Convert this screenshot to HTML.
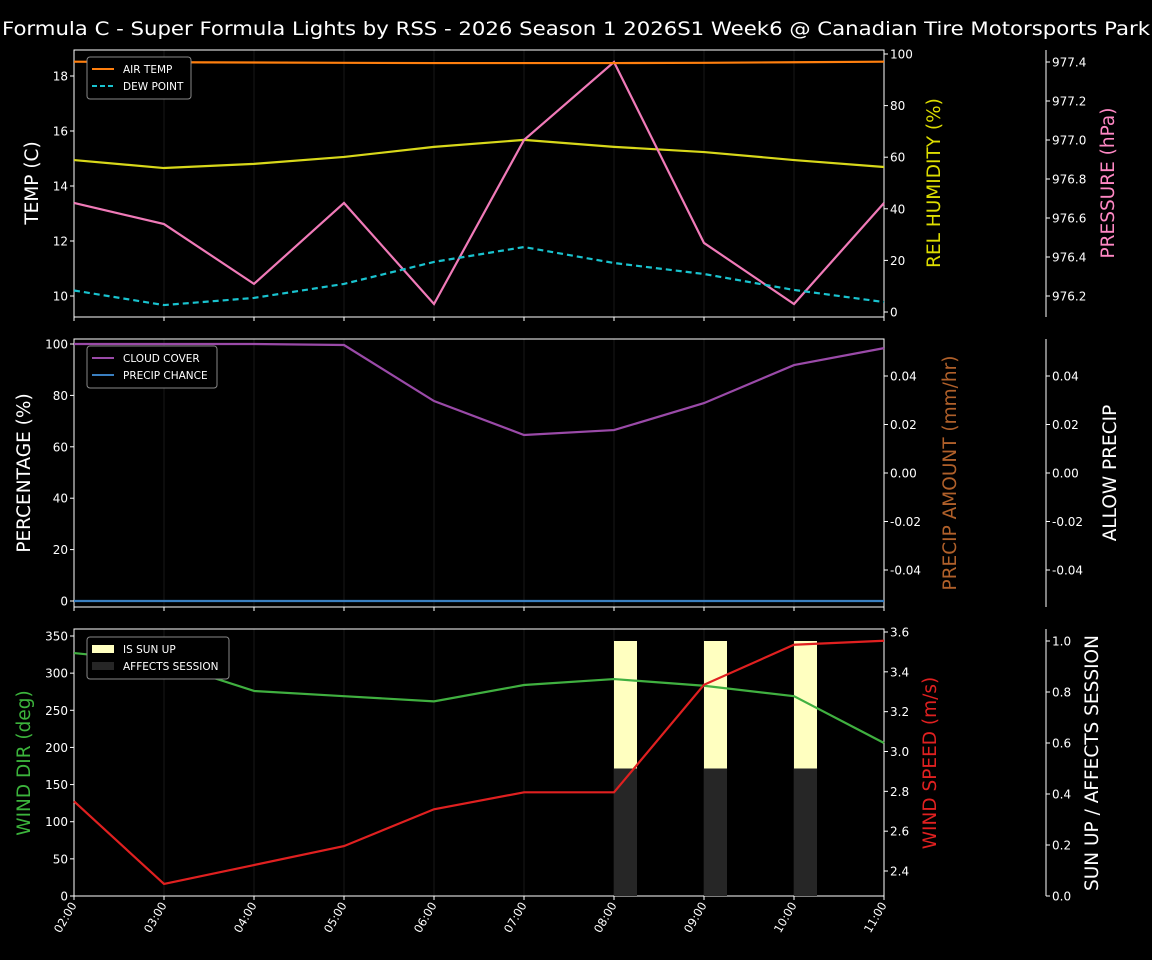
<!DOCTYPE html>
<html><head><meta charset="utf-8">
<style>
html,body{margin:0;padding:0;background:#000;}
svg{display:block;font-family:"DejaVu Sans","Liberation Sans",sans-serif;}
</style></head>
<body>
<svg id="chart" width="1152" height="960" viewBox="0 0 1152 960" xmlns="http://www.w3.org/2000/svg">
<rect width="1152" height="960" fill="#000"/>
<text x="576" y="35" fill="#fff" font-size="19" text-anchor="middle" textLength="1148" lengthAdjust="spacingAndGlyphs">Formula C - Super Formula Lights by RSS - 2026 Season 1 2026S1 Week6 @ Canadian Tire Motorsports Park</text>
</svg>
<script>
const hours=["02:00","03:00","04:00","05:00","06:00","07:00","08:00","09:00","10:00","11:00"];
const airTemp=[18.52,18.5,18.49,18.48,18.47,18.47,18.47,18.48,18.5,18.52];
const dewPoint=[10.2,9.67,9.93,10.44,11.24,11.78,11.2,10.8,10.22,9.78];
const humidity=[58.9,55.8,57.4,60.1,64,66.7,64,62,58.9,56.2];
const pressure=[976.677,976.569,976.262,976.677,976.159,977.0,977.4,976.472,976.159,976.677];
const cloudCover=[100,100,100,99.6,77.8,64.6,66.5,77,91.8,98.4];
const precipChance=[0,0,0,0,0,0,0,0,0,0];
const windDir=[327,315,276,269,262,284,292,283,269,206];
const windSpeed=[2.75,2.335,2.43,2.525,2.71,2.795,2.795,3.335,3.536,3.556];
const sunUp=[0,0,0,0,0,0,1,1,1,0];
const affects=[0,0,0,0,0,0,0.5,0.5,0.5,0];
const tempTicks=[10,12,14,16,18];
const humTicks=[0,20,40,60,80,100];
const presTicks=[976.2,976.4,976.6,976.8,977.0,977.2,977.4];
const pctTicks=[0,20,40,60,80,100];
const precTicks=[-0.04,-0.02,0.00,0.02,0.04];
const dirTicks=[0,50,100,150,200,250,300,350];
const spdTicks=[2.4,2.6,2.8,3.0,3.2,3.4,3.6];
const sunTicks=[0,0.2,0.4,0.6,0.8,1.0];

const svg=document.getElementById('chart');
const NS='http://www.w3.org/2000/svg';
function mk(tag,attrs,parent){const e=document.createElementNS(NS,tag);for(const k in attrs)e.setAttribute(k,attrs[k]);(parent||svg).appendChild(e);return e;}
const X0=74,X1=884;
const xs=i=>X0+(X1-X0)*i/(hours.length-1);
function lin(d0,d1,r0,r1){return v=>r0+(v-d0)*(r1-r0)/(d1-d0);}

const panels=[{top:50,bot:317},{top:339,bot:607},{top:629,bot:896}];
panels.forEach((p,pi)=>{
  const g=mk('g',{});
  
  
  hours.forEach((h,i)=>{const l=mk('line',{x1:xs(i),x2:xs(i),y1:p.top,y2:p.bot,stroke:'#181818','stroke-width':1},g);
    });
  const r=mk('rect',{x:X0,y:p.top,width:X1-X0,height:p.bot-p.top,fill:'none',stroke:'#fff','stroke-width':1},g);
  
  hours.forEach((h,i)=>{mk('line',{x1:xs(i),x2:xs(i),y1:p.bot,y2:p.bot+4,stroke:'#fff'},g);});
});
function axis(ticks,sc,x,side,fmt,name){
  const g=mk('g',{});
  
  
  ticks.forEach(t=>{const y=sc(t);
    const d=side==='left'?-4:4;
    mk('line',{x1:x,x2:x+d,y1:y,y2:y,stroke:'#fff'},g);
    const tx=mk('text',{x:side==='left'?x-6:x+6,y:y+4.5,fill:'#fff','font-size':12,'text-anchor':side==='left'?'end':'start'},g);
    tx.textContent=fmt(t);});
}
function spine(x,top,bot){mk('line',{x1:x,x2:x,y1:top,y2:bot,stroke:'#fff'});}
function label(txt,x,y,color,name){const t=mk('text',{x:x,y:y,fill:color,'font-size':18.5,'text-anchor':'middle',transform:`rotate(-90 ${x} ${y})`});t.textContent=txt;
  }
function line(vals,sc,color,name,dash){const pts=vals.map((v,i)=>xs(i)+','+sc(v)).join(' ');
  const l=mk('polyline',{points:pts,fill:'none',stroke:color,'stroke-width':2.2});if(dash)l.setAttribute('stroke-dasharray','6,4');
  }
function legend(x,y,w,items,name){const g=mk('g',{});
  mk('rect',{x:x,y:y,width:w,height:items.length*17+8,rx:3,fill:'#000',stroke:'#888','stroke-width':1},g);
  items.forEach((it,i)=>{const yy=y+12+i*17;
    if(it.box){mk('rect',{x:x+5,y:yy-4,width:22,height:8,fill:it.color},g);}
    else{const l=mk('line',{x1:x+5,x2:x+27,y1:yy,y2:yy,stroke:it.color,'stroke-width':2},g);if(it.dash)l.setAttribute('stroke-dasharray','5,3');}
    const t=mk('text',{x:x+36,y:yy+4,fill:'#fff','font-size':10.5},g);t.textContent=it.t;});}

// Panel 1
const sT=lin(10,18,296,76),sH=lin(0,100,312,54),sP=lin(976.2,977.4,296,62);
axis(tempTicks,sT,X0,'left',v=>v,'temp-axis');
axis(humTicks,sH,X1,'right',v=>v,'humidity-axis');
spine(1046,50,317);
axis(presTicks,sP,1046,'right',v=>v.toFixed(1),'pressure-axis');
label('TEMP (C)',38,183,'#fff','temp-axis-title');
label('REL HUMIDITY (%)',940,183,'#dddd00','humidity-axis-title');
label('PRESSURE (hPa)',1114,183,'#ff88c4','pressure-axis-title');
line(humidity,sH,'#d8d81a','humidity-line');
line(pressure,sP,'#f07ab8','pressure-line');
line(dewPoint,sT,'#19c3cf','dew-point-line',true);
line(airTemp,sT,'#ff7f0e','air-temp-line');
legend(87,57,104,[{t:'AIR TEMP',color:'#ff7f0e'},{t:'DEW POINT',color:'#19c3cf',dash:1}],'legend-temp');

// Panel 2
const sPc=lin(0,100,601,344),sPr=lin(-0.04,0.04,570,376);
axis(pctTicks,sPc,X0,'left',v=>v,'percentage-axis');
axis(precTicks,sPr,X1,'right',v=>v.toFixed(2),'precip-amount-axis');
spine(1046,339,607);
axis(precTicks,sPr,1046,'right',v=>v.toFixed(2),'allow-precip-axis');
label('PERCENTAGE (%)',30,473,'#fff','percentage-axis-title');
label('PRECIP AMOUNT (mm/hr)',956,473,'#b0602a','precip-amount-axis-title');
label('ALLOW PRECIP',1116,473,'#fff','allow-precip-axis-title');
line(cloudCover,sPc,'#9a4aa8','cloud-cover-line');
line(precipChance,sPc,'#3a7fc0','precip-chance-line');
legend(87,346,130,[{t:'CLOUD COVER',color:'#9a4aa8'},{t:'PRECIP CHANCE',color:'#3a7fc0'}],'legend-cloud');

// Panel 3
const sD=lin(0,350,896,636),sS=lin(2.4,3.6,871,632),sU=lin(0,1,896,641);
const bw=23;
sunUp.forEach((v,i)=>{if(v>0){const r=mk('rect',{x:xs(i),y:sU(v),width:bw,height:sU(0)-sU(v),fill:'#ffffc0'});
  }});
affects.forEach((v,i)=>{if(v>0){const r=mk('rect',{x:xs(i),y:sU(v),width:bw,height:sU(0)-sU(v),fill:'#262626'});
  }});
axis(dirTicks,sD,X0,'left',v=>v,'wind-dir-axis');
axis(spdTicks,sS,X1,'right',v=>v.toFixed(1),'wind-speed-axis');
spine(1046,629,896);
axis(sunTicks,sU,1046,'right',v=>v.toFixed(1),'sun-axis');
label('WIND DIR (deg)',30,763,'#3cb43c','wind-dir-axis-title');
label('WIND SPEED (m/s)',936,763,'#e02020','wind-speed-axis-title');
label('SUN UP / AFFECTS SESSION',1098,763,'#fff','sun-axis-title');
line(windDir,sD,'#40b040','wind-dir-line');
line(windSpeed,sS,'#e02020','wind-speed-line');
legend(87,637,142,[{t:'IS SUN UP',color:'#ffffc0',box:1},{t:'AFFECTS SESSION',color:'#262626',box:1}],'legend-sun');

// X labels
hours.forEach((h,i)=>{const x=xs(i)+3,y=905;
  const t=mk('text',{x:x,y:y,fill:'#fff','font-size':11.5,'text-anchor':'end',transform:`rotate(-60 ${x} ${y})`});
  t.textContent=h;});
</script>
</body></html>
